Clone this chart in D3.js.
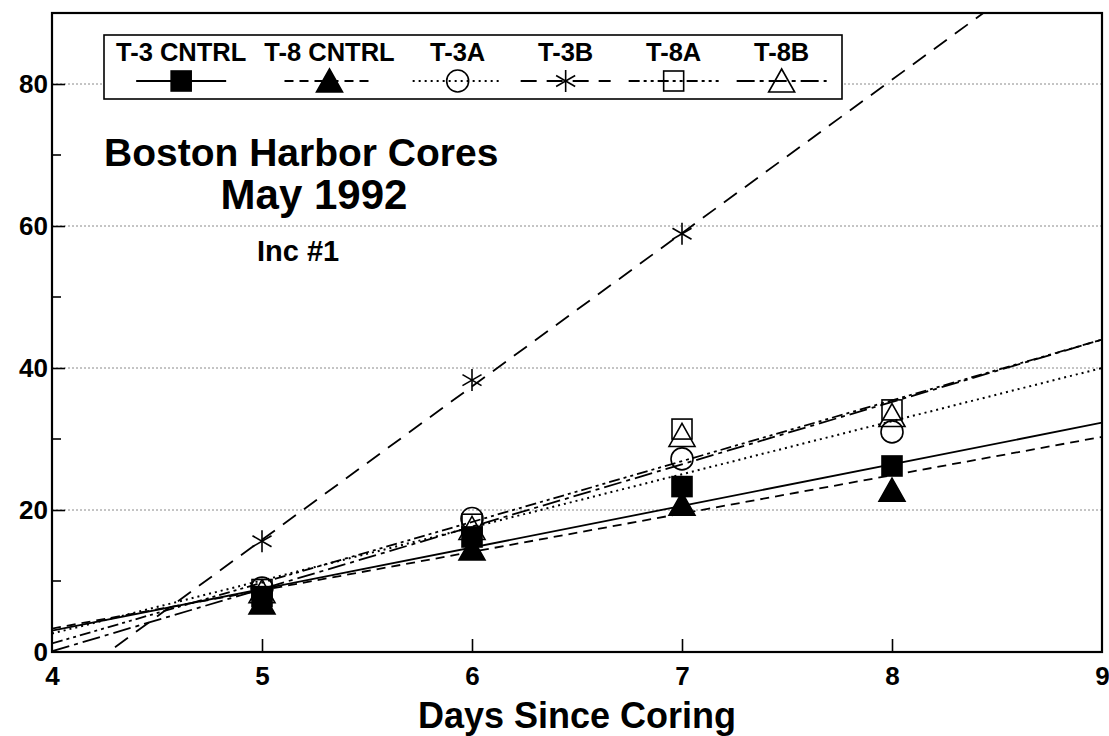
<!DOCTYPE html>
<html>
<head>
<meta charset="utf-8">
<script src="https://cdn.jsdelivr.net/npm/d3@7"></script>
<style>
  html, body { margin: 0; padding: 0; background: #fff; }
  svg { display: block; font-family: "Liberation Sans", Arial, Helvetica, sans-serif; }
</style>
</head>
<body>
<svg id="chart" width="1109" height="736"></svg>
<script>
// Incubation #1 sampling days
const days = [5, 6, 7, 8];

// Core series, in legend order
const seriesNames = ["T-3 CNTRL", "T-8 CNTRL", "T-3A", "T-3B", "T-8A", "T-8B"];

// Measured values per sampling day (null = no sample)
const t3Cntrl = [7.8, 16.2, 23.3, 26.2];
const t8Cntrl = [6.9, 14.5, 20.8, 22.8];
const t3A     = [9.0, 18.8, 27.2, 31.0];
const t3B     = [15.6, 38.3, 58.9, null];
const t8A     = [8.8, 18.0, 31.4, 34.1];
const t8B     = [8.5, 17.4, 30.5, 33.3];

// Linear fits: value at day 4 and slope per day
const fitAtDay4 = [3.0, 3.3, 2.6, -5.8, 1.2, 0.1];
const fitSlope  = [5.86, 5.4, 7.48, 21.6, 8.56, 8.78];

// Axis ticks
const xTicks = [4, 5, 6, 7, 8, 9];
const yTicks = [0, 20, 40, 60, 80];
const yMinorTicks = [10, 30, 50, 70];
const gridValues = [20, 40, 60, 80];

const seriesValues = [t3Cntrl, t8Cntrl, t3A, t3B, t8A, t8B];

// Drawing styles per series
const styles = [
  { dash: null,                 marker: "square",   filled: true  },
  { dash: "9,6",                marker: "triangle", filled: true  },
  { dash: "2,4",                marker: "circle",   filled: false },
  { dash: "16,10",              marker: "asterisk", filled: false },
  { dash: "11,4,3,4,3,4",       marker: "square",   filled: false },
  { dash: "18,5,4,5",           marker: "triangle", filled: false }
];

const svg = d3.select("#chart");
const plotL = 52, plotR = 1102, plotT = 13, plotB = 652;

const x = d3.scaleLinear().domain([4, 9]).range([plotL, plotR]);
const y = d3.scaleLinear().domain([0, 90]).range([plotB, plotT]);

svg.append("defs").append("clipPath").attr("id", "plotClip")
  .append("rect").attr("x", plotL).attr("y", plotT)
  .attr("width", plotR - plotL).attr("height", plotB - plotT);

// Horizontal dotted gridlines
svg.append("g").selectAll("line").data(gridValues).join("line")
  .attr("x1", plotL).attr("x2", plotR)
  .attr("y1", d => y(d)).attr("y2", d => y(d))
  .attr("stroke", "#8a8a8a").attr("stroke-width", 1)
  .attr("stroke-dasharray", "2,2");

// Bottom axis, ticks pointing inward
const xAxis = svg.append("g").attr("transform", `translate(0,${plotB})`)
  .call(d3.axisBottom(x).tickValues(xTicks).tickFormat(d3.format("d"))
    .tickSizeInner(-13).tickSizeOuter(0).tickPadding(15));
xAxis.select(".domain").remove();
xAxis.selectAll(".tick line").attr("stroke", "#000").attr("stroke-width", 1.6)
  .filter(d => d === 4 || d === 9).remove();
xAxis.selectAll("text").attr("font-size", 26).attr("font-weight", "bold").attr("fill", "#000");

// Left axis, ticks pointing inward
const yAxis = svg.append("g").attr("transform", `translate(${plotL},0)`)
  .call(d3.axisLeft(y).tickValues(yTicks).tickFormat(d3.format("d"))
    .tickSizeInner(-13).tickSizeOuter(0).tickPadding(4));
yAxis.select(".domain").remove();
yAxis.selectAll(".tick line").attr("stroke", "#000").attr("stroke-width", 1.6)
  .filter(d => d === 0).remove();
yAxis.selectAll("text").attr("font-size", 26).attr("font-weight", "bold").attr("fill", "#000");

svg.append("g").selectAll("line").data(yMinorTicks).join("line")
  .attr("x1", plotL).attr("x2", plotL + 9)
  .attr("y1", d => y(d)).attr("y2", d => y(d))
  .attr("stroke", "#000").attr("stroke-width", 1.6);

// Plot frame
svg.append("rect").attr("x", plotL).attr("y", plotT)
  .attr("width", plotR - plotL).attr("height", plotB - plotT)
  .attr("fill", "none").attr("stroke", "#000").attr("stroke-width", 2.2);

// Fit lines
const fitG = svg.append("g").attr("clip-path", "url(#plotClip)");
seriesNames.forEach((name, i) => {
  const ends = [4, 9].map(d => [d, fitAtDay4[i] + fitSlope[i] * (d - 4)]);
  fitG.append("path")
    .attr("d", d3.line().x(p => x(p[0])).y(p => y(p[1]))(ends))
    .attr("fill", "none").attr("stroke", "#000")
    .attr("stroke-width", i === 2 ? 2 : 1.8)
    .attr("stroke-dasharray", styles[i].dash);
});

// Marker drawing
function drawMarker(g, type, filled, cx, cy) {
  const stroke = "#000", sw = 1.6;
  const fill = filled ? "#000" : "none";
  if (type === "square") {
    g.append("rect").attr("x", cx - 10).attr("y", cy - 10)
      .attr("width", 20).attr("height", 20)
      .attr("fill", fill).attr("stroke", stroke).attr("stroke-width", sw);
  } else if (type === "triangle") {
    g.append("path")
      .attr("d", `M${cx},${cy - 12}L${cx + 13},${cy + 11}L${cx - 13},${cy + 11}Z`)
      .attr("fill", fill).attr("stroke", stroke).attr("stroke-width", sw);
  } else if (type === "circle") {
    g.append("circle").attr("cx", cx).attr("cy", cy).attr("r", 11)
      .attr("fill", fill).attr("stroke", stroke).attr("stroke-width", sw);
  } else if (type === "asterisk") {
    const r = 11;
    [90, 30, -30].forEach(a => {
      const rad = a * Math.PI / 180;
      g.append("line")
        .attr("x1", cx - r * Math.cos(rad)).attr("y1", cy - r * Math.sin(rad))
        .attr("x2", cx + r * Math.cos(rad)).attr("y2", cy + r * Math.sin(rad))
        .attr("stroke", stroke).attr("stroke-width", sw);
    });
  }
}

// Data points
const ptG = svg.append("g");
seriesNames.forEach((name, i) => {
  seriesValues[i].forEach((v, j) => {
    if (v === null) return;
    drawMarker(ptG, styles[i].marker, styles[i].filled, x(days[j]), y(v));
  });
});

// Legend
const legG = svg.append("g");
const legX = 104, legY = 35, legW = 738, legH = 64;
legG.append("rect").attr("x", legX).attr("y", legY).attr("width", legW).attr("height", legH)
  .attr("fill", "#fff").attr("stroke", "#000").attr("stroke-width", 1.6);

let cursor = 116;
const sampleW = 90, entryGap = 18;
seriesNames.forEach((name, i) => {
  const t = legG.append("text").text(name)
    .attr("font-size", 25.5).attr("font-weight", "bold").attr("text-anchor", "middle")
    .attr("y", 61);
  const tw = t.node().getComputedTextLength();
  const w = Math.max(tw, sampleW);
  const cx = cursor + w / 2;
  t.attr("x", cx);
  legG.append("line").attr("x1", cx - 45).attr("x2", cx + 45)
    .attr("y1", 81).attr("y2", 81)
    .attr("stroke", "#000").attr("stroke-width", 1.8)
    .attr("stroke-dasharray", styles[i].dash);
  drawMarker(legG, styles[i].marker, styles[i].filled, cx, 81);
  cursor += w + entryGap;
});

// Annotations
svg.append("text").text("Boston Harbor Cores")
  .attr("x", 104).attr("y", 166).attr("font-size", 39).attr("font-weight", "bold");
svg.append("text").text("May 1992")
  .attr("x", 314).attr("y", 209).attr("text-anchor", "middle")
  .attr("font-size", 42).attr("font-weight", "bold");
svg.append("text").text("Inc #1")
  .attr("x", 257).attr("y", 261).attr("font-size", 29).attr("font-weight", "bold");

// Axis title
svg.append("text").text("Days Since Coring")
  .attr("x", (plotL + plotR) / 2).attr("y", 728).attr("text-anchor", "middle")
  .attr("font-size", 36).attr("font-weight", "bold");
</script>
</body>
</html>
